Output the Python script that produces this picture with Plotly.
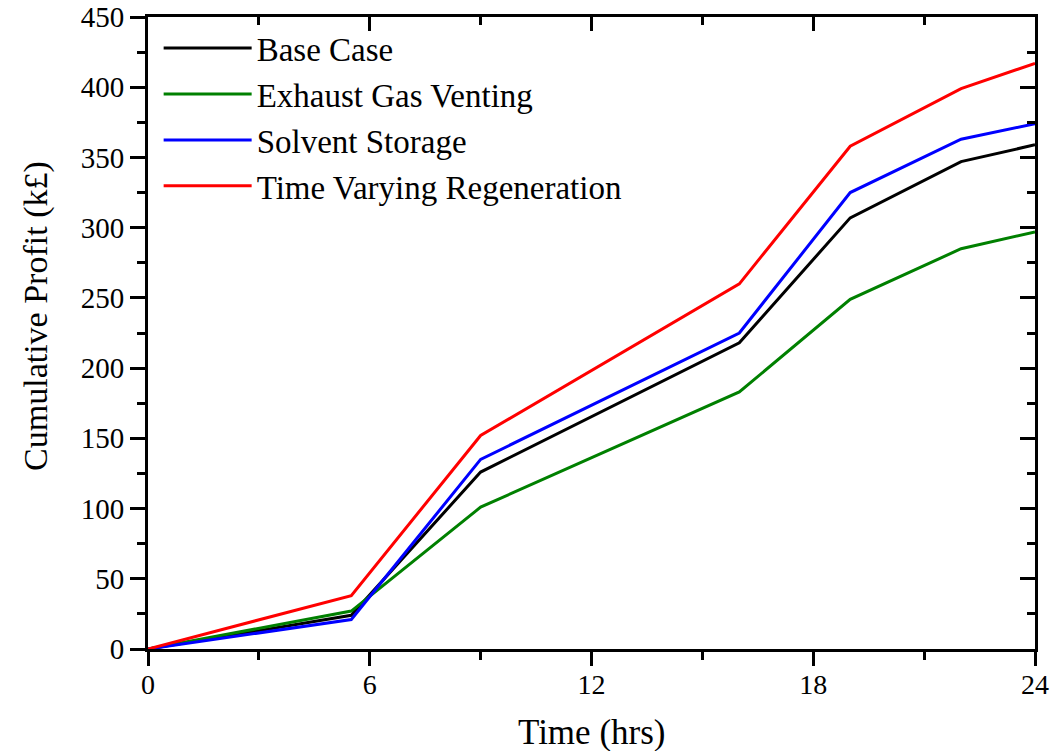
import plotly.graph_objects as go

time_hrs = [0, 5.5, 9, 16, 19, 22, 24]
base_case = [0, 24, 126, 218, 307, 347, 359]
exhaust_gas_venting = [0, 27, 101, 183, 249, 285, 297]
solvent_storage = [0, 21, 135, 225, 325, 363, 374]
time_varying_regen = [0, 38, 152, 260, 358, 399, 417]

x_major = [0, 6, 12, 18, 24]
x_minor = [3, 9, 15, 21]
y_major = list(range(0, 451, 50))
y_minor = list(range(25, 450, 50))

series = [
    ("Base Case", base_case, "#000000"),
    ("Exhaust Gas Venting", exhaust_gas_venting, "#008000"),
    ("Solvent Storage", solvent_storage, "#0000ff"),
    ("Time Varying Regeneration", time_varying_regen, "#ff0000"),
]

FONT = "Liberation Serif, Times New Roman, serif"

fig = go.Figure()
for name, vals, col in series:
    fig.add_trace(go.Scatter(x=time_hrs, y=vals, name=name, mode="lines",
                             line=dict(color=col, width=3)))

# invisible trace to activate the mirrored top/right axes
fig.add_trace(go.Scatter(x=[0], y=[0], xaxis="x2", yaxis="y2", mode="markers",
                         marker=dict(opacity=0), showlegend=False, hoverinfo="skip"))

axis_common = dict(showgrid=False, zeroline=False, showline=True, linecolor="black",
                   linewidth=3, tickcolor="black", tickwidth=2.5, automargin=False)

def minor(vals, side):
    return dict(tickvals=vals, ticks=side, ticklen=8, tickcolor="black", tickwidth=2.5)

fig.update_layout(
    width=1064, height=751,
    margin=dict(l=148, r=29, t=17, b=102),
    paper_bgcolor="white", plot_bgcolor="white",
    font=dict(family=FONT, color="black", size=28),
    xaxis=dict(range=[0, 24], tickvals=x_major, ticks="outside", ticklen=14,
               minor=minor(x_minor, "outside"), ticklabelstandoff=-6,
               tickfont=dict(size=28), **axis_common),
    yaxis=dict(range=[0, 450], tickvals=y_major, ticks="outside", ticklen=15,
               minor=minor(y_minor, "outside"),
               tickfont=dict(size=29), **axis_common),
    xaxis2=dict(range=[0, 24], overlaying="x", side="top", tickvals=x_major,
                ticks="inside", ticklen=14, showticklabels=False,
                minor=minor(x_minor, "inside"), **axis_common),
    yaxis2=dict(range=[0, 450], overlaying="y", side="right", tickvals=y_major,
                ticks="inside", ticklen=15, showticklabels=False,
                minor=minor(y_minor, "inside"), **axis_common),
    legend=dict(x=0.012, y=0.995, xanchor="left", yanchor="top", bgcolor="rgba(0,0,0,0)",
                font=dict(size=33), itemwidth=88, tracegroupgap=0),
    showlegend=True,
    annotations=[
        dict(text="Time (hrs)", xref="paper", yref="paper", x=0.5, y=0,
             xanchor="center", yanchor="middle", yshift=-83, showarrow=False,
             font=dict(size=35)),
        dict(text="Cumulative Profit (k£)", xref="paper", yref="paper", x=0, y=0.527,
             xanchor="center", yanchor="middle", xshift=-112, textangle=-90,
             showarrow=False, font=dict(size=34)),
    ],
)

fig.write_html("out.html", config={"displayModeBar": False},
               post_script="document.body.style.margin='0';")
